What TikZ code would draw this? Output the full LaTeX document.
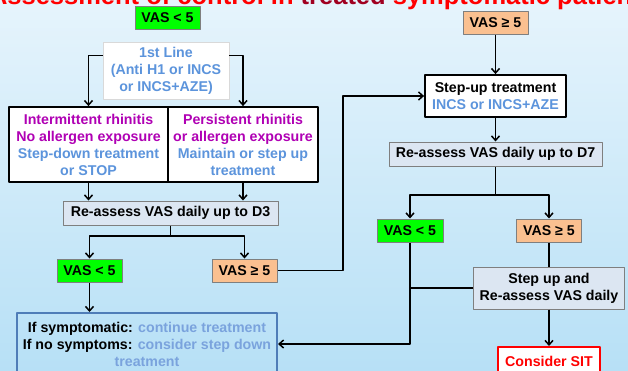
\documentclass[tikz,border=0pt]{standalone}
\usepackage{fontspec}
\setmainfont{Liberation Sans}
\usetikzlibrary{arrows.meta}
\definecolor{ink}{HTML}{000000}
\definecolor{titlered}{HTML}{FF0000}
\definecolor{titledark}{HTML}{A00020}
\definecolor{drugblue}{HTML}{5C94DC}
\definecolor{softblue}{HTML}{7AA3DD}
\definecolor{rhinmag}{HTML}{B000B4}
\definecolor{vasgreen}{HTML}{00FF00}
\definecolor{vasorange}{HTML}{FAC090}
\definecolor{boxgrey}{HTML}{DCE6F2}
\definecolor{edgegrey}{HTML}{7F7F7F}
\definecolor{frameblue}{HTML}{4F7DB8}
\definecolor{sitred}{HTML}{FF0000}
\definecolor{bgtop}{HTML}{E6F4FC}
\definecolor{bgbot}{HTML}{B7E0F6}
\newcommand{\figfontsize}{\fontsize{14.2}{17}\selectfont}
\tikzset{
  every picture/.style = {font=\figfontsize\bfseries, line join=round},
  conn/.style          = {ink, line width=1.5pt},
  arr/.style           = {conn, ->, >={Straight Barb[length=4.5pt, width=8pt]}},
  box/.style           = {inner sep=0pt, align=center},
  vaslow/.style        = {box, draw=edgegrey, fill=vasgreen, line width=1pt,
                          minimum width=65pt, minimum height=23pt},
  vashigh/.style       = {box, draw=edgegrey, fill=vasorange, line width=1pt,
                          minimum width=65pt, minimum height=23pt},
  greybox/.style       = {box, draw=edgegrey, fill=boxgrey, line width=1pt},
  whitebox/.style      = {box, draw=ink, fill=white, line width=1.8pt},
}

\begin{document}
\begin{tikzpicture}[x=1pt, y=-1pt]
  % pixel grid of the slide, y running down
  \useasboundingbox (0,0) rectangle (628,370);
  \clip (0,0) rectangle (628,370);
  \shade[top color=bgtop, bottom color=bgbot] (0,0) rectangle (628,370);

  % title, cut off by the top edge
  \node[anchor=base, font=\fontsize{25.5}{30}\selectfont\bfseries] (title) at (322,4)
    {\textcolor{titlered}{Assessment of control in} \textcolor{titledark}{treated}
     \textcolor{titlered}{symptomatic patients}};

  % --- left branch: well controlled -----------------------------------------
  \node[vaslow] (vlowA) at (167.5,17.5) {VAS < 5};
  \node[box, draw=edgegrey!30, fill=white, line width=0.8pt, minimum width=126pt,
        minimum height=57pt, text=drugblue] (firstline) at (166,70.5)
    {1st Line\\(Anti H1 or INCS\\or INCS+AZE)};
  \node[whitebox, minimum width=159pt, minimum height=75pt] (intermit) at (88.5,144.5)
    {\textcolor{rhinmag}{Intermittent rhinitis}\\\textcolor{rhinmag}{No allergen exposure}\\
     \textcolor{drugblue}{Step-down treatment}\\\textcolor{drugblue}{or STOP}};
  \node[whitebox, minimum width=150pt, minimum height=75pt] (persist) at (243,144.5)
    {\textcolor{rhinmag}{Persistent rhinitis}\\\textcolor{rhinmag}{or allergen exposure}\\
     \textcolor{drugblue}{Maintain or step up}\\\textcolor{drugblue}{treatment}};
  \node[greybox, minimum width=215pt, minimum height=24pt] (reassessA) at (170.5,213)
    {Re-assess VAS daily up to D3};
  \coordinate (splitA) at (170.5,236);
  \node[vaslow] (vlowB) at (89.5,270.5) {VAS < 5};
  \node[vashigh] (vhighB) at (244.5,270.5) {VAS ≥ 5};
  \node[box, draw=frameblue, line width=2pt, minimum width=260pt, minimum height=62pt]
    (ifbox) at (147,344)
    {If symptomatic: \textcolor{softblue}{continue treatment}\\
     If no symptoms: \textcolor{softblue}{consider step down}\\\textcolor{softblue}{treatment}};

  % --- right branch: poorly controlled --------------------------------------
  \node[vashigh] (vhighA) at (495.5,22.5) {VAS ≥ 5};
  \node[whitebox, minimum width=141pt, minimum height=42pt] (stepup) at (495.5,96)
    {Step-up treatment\\\textcolor{drugblue}{INCS or INCS+AZE}};
  \node[greybox, minimum width=213pt, minimum height=24pt] (reassessB) at (495.5,154)
    {Re-assess VAS daily up to D7};
  \coordinate (splitB) at (495.5,195);
  \node[vaslow, minimum width=66pt] (vlowC) at (410,230.5) {VAS < 5};
  \node[vashigh] (vhighC) at (549,230.5) {VAS ≥ 5};
  \node[greybox, minimum width=151pt, minimum height=42pt] (stepre) at (549,288)
    {Step up and\\Re-assess VAS daily};
  \node[box, draw=sitred, fill=white, line width=2pt, minimum width=102pt,
        minimum height=28pt, text=sitred] (sit) at (549,361) {Consider SIT};
  \coordinate (loopA) at (343,96);

  % connectors
  \draw[arr] ([yshift=-14pt]firstline.north west) -| (intermit);
  \draw[arr] ([yshift=-14pt]firstline.north east) -| (persist);
  \draw[arr] (intermit) -- (intermit |- reassessA.north);
  \draw[arr] (persist) -- (persist |- reassessA.north);
  \draw[conn] (reassessA) -- (splitA);
  \draw[arr] (splitA) -| (vlowB);
  \draw[arr] (splitA) -| (vhighB);
  \draw[arr] (vlowB) -- (vlowB |- ifbox.north);
  \draw[arr] (vhighB) -| (loopA) -- (stepup);
  \draw[arr] (vhighA) -- (stepup);
  \draw[arr] (stepup) -- (reassessB);
  \draw[conn] (reassessB) -- (splitB);
  \draw[arr] (splitB) -| (vlowC);
  \draw[arr] (splitB) -| (vhighC);
  \draw[conn] (vhighC) -- (stepre);
  \draw[conn] (stepre) -- (stepre -| vlowC);
  \draw[arr] (vlowC) |- (ifbox);
  \draw[arr] (stepre) -- (sit);
\end{tikzpicture}
\end{document}
